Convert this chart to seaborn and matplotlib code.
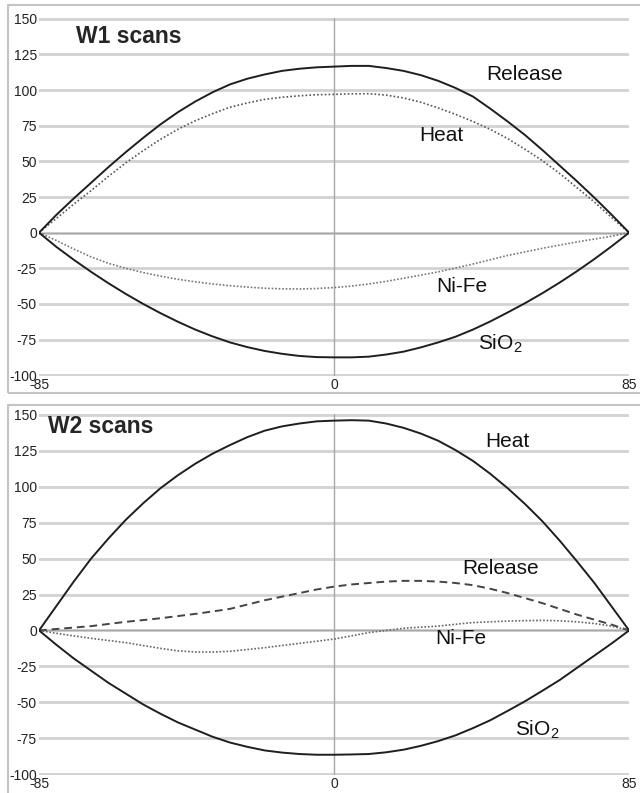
import matplotlib
matplotlib.use("Agg")
import matplotlib.pyplot as plt
import seaborn as sns
import pandas as pd
from matplotlib.patches import Rectangle


# scan position (x) and the four traces of each panel
x = [-85, -80, -75, -70, -65, -60, -55, -50, -45, -40, -35, -30, -25, -20, -15, -10, -5, 0,
     5, 10, 15, 20, 25, 30, 35, 40, 45, 50, 55, 60, 65, 70, 75, 80, 85]

w1_release = [0, 12.5, 24, 35, 46, 56.5, 66.5, 76, 84.5, 92, 98.5, 104, 108, 111, 113.5, 115, 116, 116.5,
              117, 117, 115.5, 113.5, 110.5, 106.5, 101.5, 95.5, 87, 78, 68.5, 58, 47, 36, 24.5, 12.5, 0]
w1_heat = [0, 10, 20, 29.5, 39.5, 49, 57.5, 65.5, 72.5, 78.5, 83.5, 88, 91, 93.5, 95, 96, 96.8, 97,
           97.4, 97.5, 96.5, 94.5, 91.5, 87.5, 83, 78, 72.5, 66, 58.5, 50.5, 41.5, 31.5, 21.5, 10.5, 0]
w1_nife = [0, -5.5, -11.5, -17, -21.5, -25, -28, -30.5, -32.7, -34.5, -36, -37.2, -38.2, -39, -39.4, -39.5, -39.2, -38.5,
           -37.5, -36, -34.2, -32, -29.8, -27.5, -24.8, -22, -19, -16, -13.5, -11, -8.7, -6.5, -4.5, -2.5, 0]
w1_sio2 = [0, -10, -19, -27.5, -35.5, -43, -50, -56.5, -62.5, -68, -72.8, -77, -80.3, -83, -85, -86.5, -87.3, -87.5,
           -87.5, -87, -85.5, -83.5, -80.5, -77, -73, -68, -62.3, -56, -49.5, -42.5, -35, -27, -18.5, -9.5, 0]

w2_heat = [0, 17, 34, 50, 64, 77, 88.5, 99, 108, 116, 123, 129, 134.5, 139, 142, 144, 145.5, 146,
           146.3, 146, 144, 141, 137, 132, 125.5, 118, 109, 99, 88, 76, 62.5, 48, 33, 16.5, 0]
w2_release = [0, 1, 2, 3, 4.5, 6, 7.2, 8.5, 10, 11.5, 13.2, 15, 18, 21, 23.5, 26, 28.5, 30.5,
              32, 33, 34, 34.5, 34.5, 34, 33, 31.5, 29, 26, 22.5, 19, 15, 11, 7.5, 4, 0]
w2_nife = [0, -2, -3.8, -5.5, -7, -8.5, -10.5, -12.5, -14.2, -15, -15, -14.5, -13.3, -12, -10.5, -9, -7.5, -6,
           -3.8, -1.5, 0, 1.5, 2.3, 3, 4.3, 5.5, 6, 6.5, 6.8, 7, 6.7, 6, 4.8, 3, 0]
w2_sio2 = [0, -10, -19.5, -28, -36.5, -44, -51.5, -58, -64, -69, -74, -78, -81, -83.5, -85, -86, -86.5, -86.5,
           -86.3, -86, -84.8, -83, -80.3, -77, -73, -68, -62.5, -56, -49.3, -42, -34.5, -26, -17.5, -9, 0]

y_ticks = [-100, -75, -50, -25, 0, 25, 50, 75, 100, 125, 150]
x_ticks = [-85, 0, 85]

sns.set_style("white")
plt.rcParams["font.family"] = ["Liberation Sans", "DejaVu Sans"]
plt.rcParams["axes.unicode_minus"] = False

fig = plt.figure(figsize=(6.4, 7.93), dpi=100)
ax1 = fig.add_axes([0.061, 0.5258, 0.922, 0.4515])
ax2 = fig.add_axes([0.061, 0.0227, 0.922, 0.4552])

# light frame around each panel
fig.add_artist(Rectangle((0.0125, 0.5044), 1.0, 0.4893, transform=fig.transFigure,
                         fill=False, ec="#c4c4c4", lw=1.5))
fig.add_artist(Rectangle((0.0125, -0.01), 1.0, 0.4993, transform=fig.transFigure,
                         fill=False, ec="#c4c4c4", lw=1.5))


def style_panel(ax):
    ax.set_xlim(-85, 85)
    ax.set_ylim(-100.6, 150.6)
    ax.set_yticks(y_ticks)
    ax.set_xticks(x_ticks)
    ax.yaxis.grid(True, color="#d2d2d2", lw=2)
    ax.xaxis.grid(False)
    ax.axhline(0, color="#a8a8a8", lw=1, zorder=1)
    ax.axvline(0, color="#a8a8a8", lw=1, zorder=1)
    for s in ax.spines.values():
        s.set_visible(False)
    ax.tick_params(length=0, pad=1.5, labelsize=10, colors="#222222")
    ax.set_xlabel("")
    ax.set_ylabel("")


df1 = pd.DataFrame({"x": x, "release": w1_release, "heat": w1_heat,
                    "nife": w1_nife, "sio2": w1_sio2})
df2 = pd.DataFrame({"x": x, "release": w2_release, "heat": w2_heat,
                    "nife": w2_nife, "sio2": w2_sio2})

# W1
sns.lineplot(data=df1, x="x", y="heat", ax=ax1, color="#555555", lw=1.2, linestyle=(0, (1, 1.3)), zorder=3)
sns.lineplot(data=df1, x="x", y="nife", ax=ax1, color="#777777", lw=1.2, linestyle=(0, (1, 1.1)), zorder=3)
sns.lineplot(data=df1, x="x", y="release", ax=ax1, color="#1e1e1e", lw=1.4, zorder=4)
sns.lineplot(data=df1, x="x", y="sio2", ax=ax1, color="#1e1e1e", lw=1.4, zorder=4)
style_panel(ax1)

ax1.text(-74.4, 137.5, "W1 scans", fontsize=16.5, fontweight="bold", va="center", ha="left")
ax1.text(55, 111, "Release", fontsize=15, ha="center", va="center", color="#111111")
ax1.text(31, 68, "Heat", fontsize=15, ha="center", va="center", color="#111111")
ax1.text(36.8, -38, "Ni-Fe", fontsize=15, ha="center", va="center", color="#111111")
ax1.text(48, -78, r"SiO$_\mathregular{2}$", fontsize=15, ha="center", va="center", color="#111111")

# W2
sns.lineplot(data=df2, x="x", y="release", ax=ax2, color="#444444", lw=1.4, linestyle=(0, (4, 2.5)), zorder=3)
sns.lineplot(data=df2, x="x", y="nife", ax=ax2, color="#666666", lw=1.2, linestyle=(0, (1, 1.1)), zorder=3)
sns.lineplot(data=df2, x="x", y="heat", ax=ax2, color="#1e1e1e", lw=1.4, zorder=4)
sns.lineplot(data=df2, x="x", y="sio2", ax=ax2, color="#1e1e1e", lw=1.4, zorder=4)
style_panel(ax2)

ax2.text(-82.5, 142, "W2 scans", fontsize=16.5, fontweight="bold", va="center", ha="left")
ax2.text(50, 131.6, "Heat", fontsize=15, ha="center", va="center", color="#111111")
ax2.text(48, 43, "Release", fontsize=15, ha="center", va="center", color="#111111")
ax2.text(36.5, -5.8, "Ni-Fe", fontsize=15, ha="center", va="center", color="#111111")
ax2.text(58.6, -69, r"SiO$_\mathregular{2}$", fontsize=15, ha="center", va="center", color="#111111")

fig.savefig("out.png", dpi=100)
